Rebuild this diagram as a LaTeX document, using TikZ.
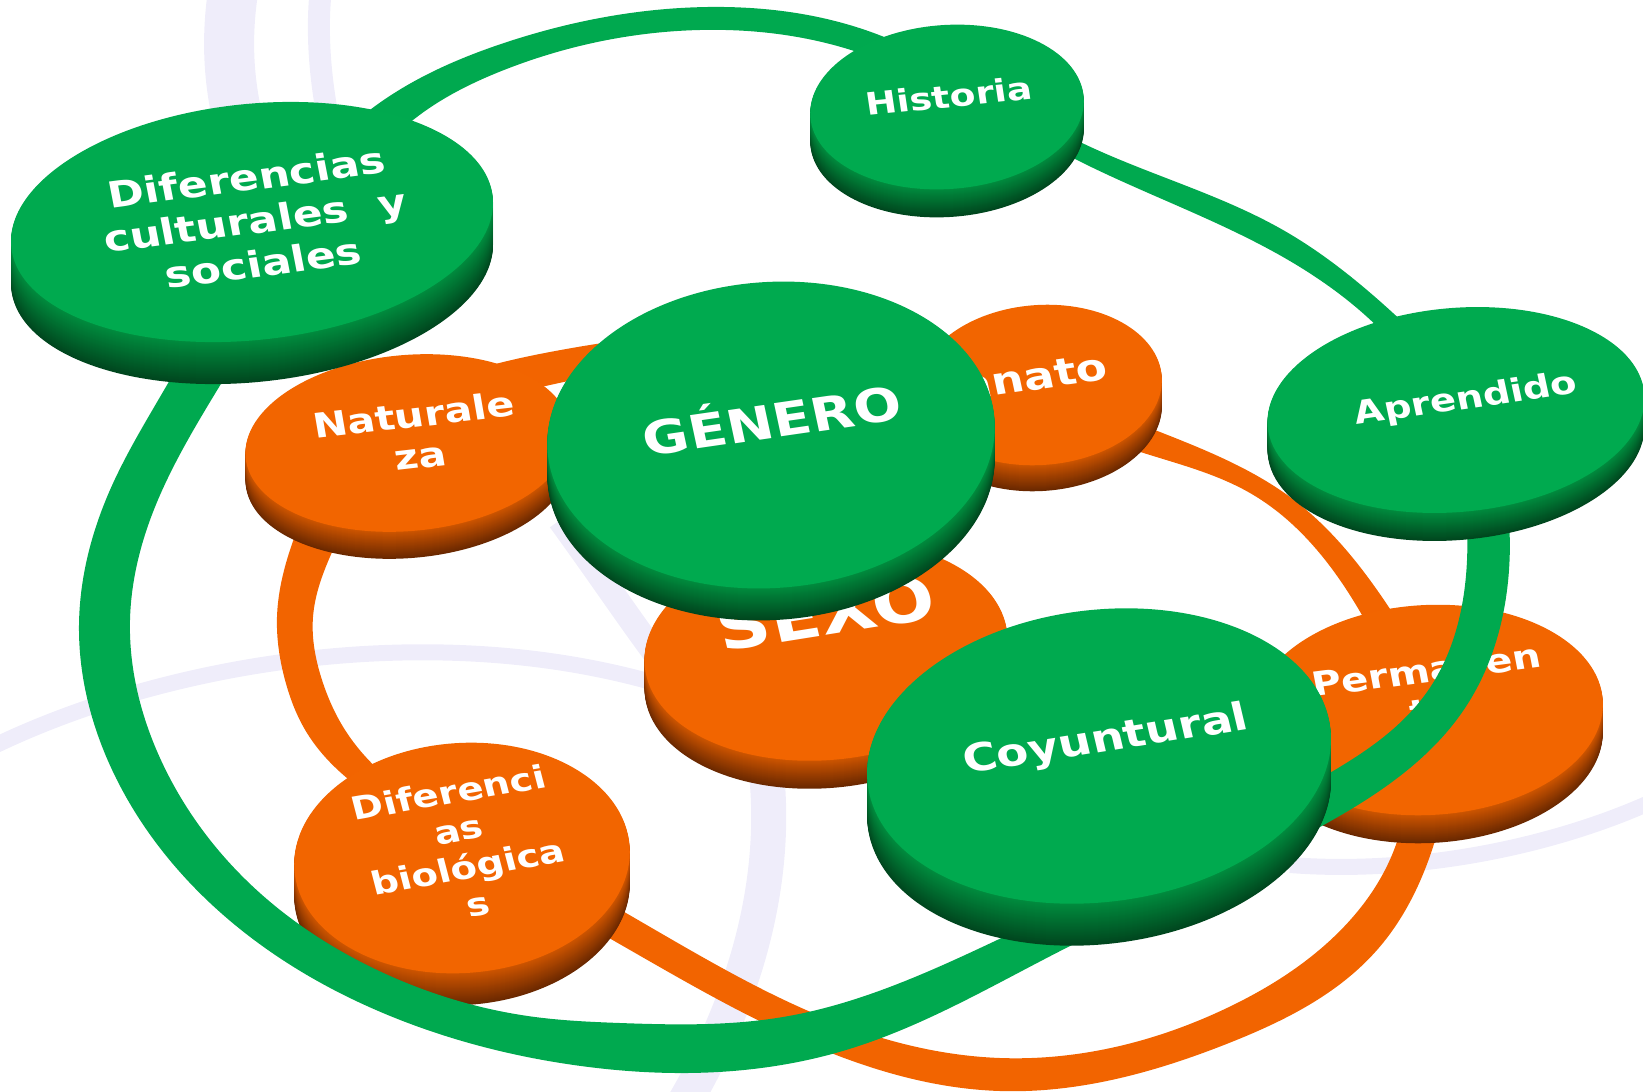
\documentclass[tikz,border=0pt]{standalone}
\usepackage{fontspec}
\setmainfont{DejaVu Sans}
\usetikzlibrary{hobby}
\definecolor{gntop}{RGB}{0,170,79}
\definecolor{gnmid}{RGB}{0,140,62}
\definecolor{gndark}{RGB}{0,70,30}
\definecolor{ogtop}{RGB}{242,101,0}
\definecolor{ogmid}{RGB}{206,85,0}
\definecolor{ogdark}{RGB}{106,40,0}
\definecolor{gnring}{RGB}{0,169,79}
\definecolor{ogring}{RGB}{242,100,0}
\definecolor{swirl}{RGB}{239,237,250}

\newcommand{\slab}[7]{%
  \foreach \dep in {#6,...,1}{%
    \pgfmathtruncatemacro{\mixp}{100*\dep/#6}%
    \fill[#7dark!\mixp!#7mid, rotate around={#5:(#1,#2+\dep)}] (#1,#2+\dep) ellipse [x radius=#3, y radius=#4];%
  }%
  \fill[#7top, rotate around={#5:(#1,#2)}] (#1,#2) ellipse [x radius=#3, y radius=#4];%
}

\begin{document}
\begin{tikzpicture}[x=0.01cm, y=-0.01cm,
  lbl/.style 2 args={text=white, align=center, inner sep=0pt, yscale=0.82, font=\fontsize{#1}{#2}\selectfont\bfseries},
  swoosh/.style={draw=swirl, line cap=butt},
  band/.style={fill=#1, even odd rule}]
\useasboundingbox (0,0) rectangle (1643,1091);
\draw[swoosh, line width=0.5cm] (235,-20) .. controls (224,40) and (228,100) .. (250,160);
\draw[swoosh, line width=0.22cm] (322,-20) .. controls (315,30) and (320,90) .. (335,150);
\draw[swoosh, line width=0.16cm] (-10,748) .. controls (180,655) and (480,610) .. (720,705);
\draw[swoosh, line width=0.16cm] (1290,865) .. controls (1420,875) and (1560,845) .. (1660,798);
\draw[swoosh, line width=0.35cm] (730,640) .. controls (800,790) and (770,960) .. (680,1110);
\draw[swoosh, line width=0.25cm] (560,520) .. controls (600,575) and (630,620) .. (660,660);

\fill[band=ogring] plot[closed hobby] coordinates {(277,617) (290,550) (370,424) (550,352) (808,334) (1160,432) (1294,500) (1384,600) (1447,760) (1432,850) (1377,950) (1229,1043) (1000,1091) (800,1040) (630,950) (411,822) (307,733) (285,680)}
  plot[closed hobby] coordinates {(313,617) (333,550) (406,445) (550,385) (812,362) (1150,455) (1250,493) (1353,600) (1408,760) (1394,850) (1325,945) (1229,1007) (1000,1058) (830,1020) (690,950) (526,858) (347,733) (322,680)};

\slab{826}{650}{182}{110}{5}{28}{og}
\node[lbl={21}{25}, rotate=11] (sexo) at (826,613) {SEXO};
\slab{1040}{385}{122}{80}{4}{26}{og}
\node[lbl={13}{15.6}, rotate=10] (innato) at (1025,378) {Innato};
\slab{408}{443}{163}{88}{5}{27}{og}
\node[lbl={11.8}{14.2}, rotate=8] (naturaleza) at (417,435) {Naturale\\za};
\slab{1428}{710}{175}{105}{3}{28}{og}
\node[lbl={11.5}{13.8}, rotate=9] (permanente) at (1430,690) {Permanen\\te};
\slab{462}{858}{168}{115}{4}{32}{og}
\node[lbl={11}{13.2}, rotate=12] (difbio) at (463,848) {Diferenci\\as\\biológica\\s};

\fill[band=gnring] plot[closed hobby] coordinates {(79,625) (110,490) (160,397) (285,199) (366,113) (504,43) (708,7) (871,32) (1080,142) (1283,230) (1393,313) (1481,419) (1509,570) (1465,708) (1336,818) (1076,943) (846,1050) (687,1073) (581,1066) (383,1013) (221,913) (116,778)}
  plot[closed hobby] coordinates {(130,620) (150,520) (213,397) (339,204) (407,125) (504,70) (700,30) (841,47) (1083,163) (1283,257) (1438,409) (1467,560) (1427,692) (1314,782) (1012,933) (783,1017) (620,1023) (535,1017) (375,969) (245,879) (160,758)};

\slab{252}{222}{242}{118}{6}{42}{gn}
\node[lbl={12.5}{15}, rotate=9] (difcult) at (255,220) {Diferencias\\culturales~~y\\sociales};
\slab{947}{107}{137}{82}{4}{28}{gn}
\node[lbl={10.7}{12.8}, rotate=7] (historia) at (949,96) {Historia};
\slab{1456}{410}{189}{102}{5}{28}{gn}
\node[lbl={11}{13.2}, rotate=10] (aprendido) at (1466,400) {Aprendido};
\slab{771}{435}{224}{153}{4}{32}{gn}
\node[lbl={16}{19.2}, rotate=10] (genero) at (771,417) {GÉNERO};
\slab{1099}{756}{233}{146}{7}{42}{gn}
\node[lbl={13.3}{16}, rotate=11] (coyuntural) at (1106,741) {Coyuntural};
\end{tikzpicture}
\end{document}
